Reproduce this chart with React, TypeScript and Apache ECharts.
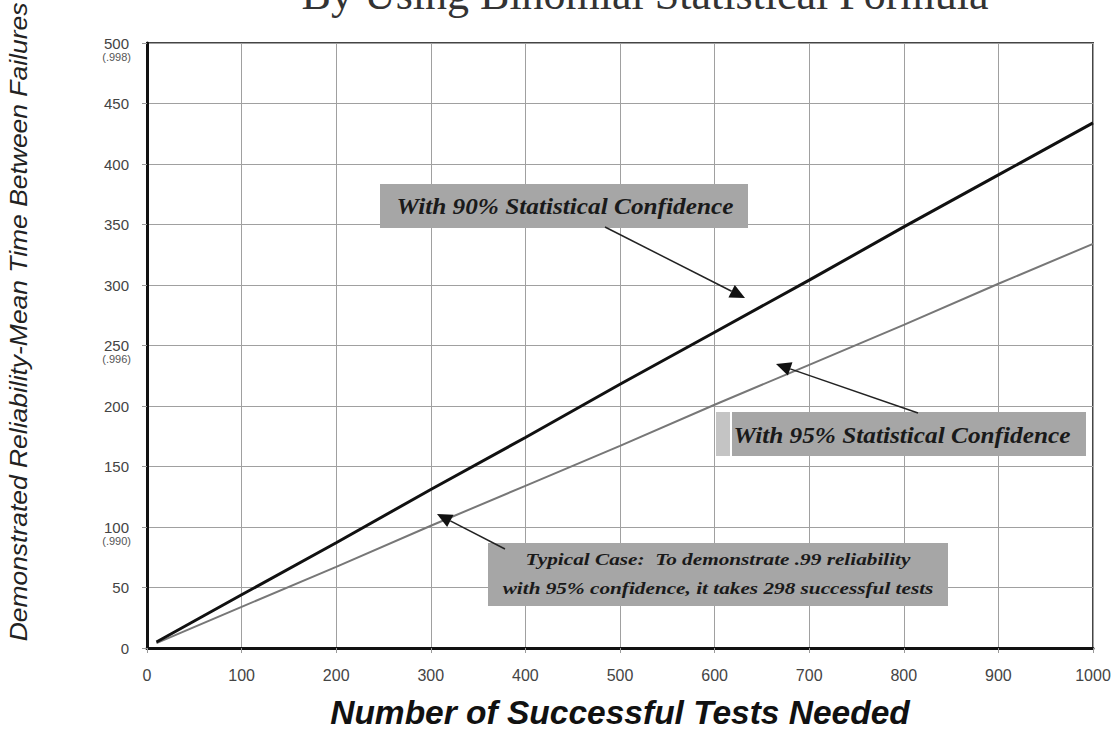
import React, { useEffect, useRef } from "react";
import * as echarts from "echarts";

// ---- data ----
const testsNeeded = [10, 100, 200, 300, 400, 500, 600, 700, 800, 900, 1000];
const mtbf90 = [5, 44, 87, 131, 174, 218, 261, 304, 348, 391, 434];
const mtbf95 = [4, 34, 67, 101, 134, 167, 201, 234, 267, 301, 334];
const xTicks = [0, 100, 200, 300, 400, 500, 600, 700, 800, 900, 1000];
const yTicks = [0, 50, 100, 150, 200, 250, 300, 350, 400, 450, 500];
const reliabilityTicks = [100, 250, 500];
const reliabilityLabels = ["(.990)", "(.996)", "(.998)"];

const title = "By Using Binomial Statistical Formula";
const xName = "Number of Successful Tests Needed";
const yName = "Demonstrated Reliability-Mean Time Between Failures";
const note90 = "With 90% Statistical Confidence";
const note95 = "With 95% Statistical Confidence";
const noteTypical = [
  "Typical Case:  To demonstrate .99 reliability",
  "with 95% confidence, it takes 298 successful tests",
];

function arrow(x1: number, y1: number, x2: number, y2: number) {
  const dx = x2 - x1;
  const dy = y2 - y1;
  const len = Math.sqrt(dx * dx + dy * dy);
  const ux = dx / len;
  const uy = dy / len;
  const hl = 15;
  const hw = 7;
  const bx = x2 - ux * hl;
  const by = y2 - uy * hl;
  return [
    {
      type: "line",
      shape: { x1, y1, x2: bx, y2: by },
      style: { stroke: "#222", lineWidth: 1.5 },
      z: 20,
    },
    {
      type: "polygon",
      shape: {
        points: [
          [x2, y2],
          [bx - uy * hw, by + ux * hw],
          [bx + uy * hw, by - ux * hw],
        ],
      },
      style: { fill: "#111" },
      z: 20,
    },
  ];
}

export default function App() {
  const ref = useRef<HTMLDivElement>(null);
  useEffect(() => {
    if (!ref.current) return;
    const chart = echarts.init(ref.current, undefined, { renderer: "svg" });
    const lbl = "Liberation Sans";
    const serif = "Liberation Serif";
    chart.setOption({
      animation: false,
      backgroundColor: "#ffffff",
      grid: {
        left: 147,
        right: 24,
        top: 43,
        bottom: 105,
        show: true,
        borderColor: "#444",
        borderWidth: 2,
        backgroundColor: "transparent",
      },
      xAxis: {
        type: "value",
        min: 0,
        max: 1000,
        interval: 100,
        name: xName,
        nameLocation: "middle",
        nameGap: 47,
        nameTextStyle: {
          fontFamily: lbl,
          fontSize: 33.5,
          fontWeight: "bold",
          fontStyle: "italic",
          color: "#111",
        },
        axisLine: { show: true, lineStyle: { color: "#111", width: 3 } },
        axisTick: { show: true, length: 5, lineStyle: { color: "#999" } },
        axisLabel: {
          margin: 19,
          fontFamily: lbl,
          fontSize: 16,
          color: "#444",
          formatter: (v: number) => (xTicks.includes(v) ? String(v) : ""),
        },
        splitLine: { show: true, lineStyle: { color: "#a0a0a0", width: 1 } },
      },
      yAxis: [
        {
          type: "value",
          min: 0,
          max: 500,
          interval: 50,
          axisLine: { show: true, lineStyle: { color: "#111", width: 3 } },
          axisTick: { show: true, length: 5, lineStyle: { color: "#999" } },
          axisLabel: {
            margin: 18,
            fontFamily: lbl,
            fontSize: 15,
            color: "#444",
            formatter: (v: number) => (yTicks.includes(v) ? String(v) : ""),
          },
          splitLine: { show: true, lineStyle: { color: "#a0a0a0", width: 1 } },
        },
        {
          type: "value",
          min: 0,
          max: 500,
          interval: 50,
          position: "left",
          axisLine: { show: false },
          axisTick: { show: false },
          splitLine: { show: false },
          axisLabel: {
            margin: 16,
            fontFamily: lbl,
            fontSize: 11,
            color: "#555",
            verticalAlign: "top",
            padding: [8, 0, 0, 0],
            formatter: (v: number) => {
              const i = reliabilityTicks.indexOf(v);
              return i >= 0 ? reliabilityLabels[i] : "";
            },
          },
        },
      ],
      series: [
        {
          name: "90%",
          type: "line",
          data: testsNeeded.map((x, i) => [x, mtbf90[i]]),
          showSymbol: false,
          lineStyle: { color: "#111", width: 3 },
          z: 5,
        },
        {
          name: "95%",
          type: "line",
          data: testsNeeded.map((x, i) => [x, mtbf95[i]]),
          showSymbol: false,
          lineStyle: { color: "#777", width: 2 },
          z: 4,
        },
      ],
      graphic: [
        {
          type: "text",
          x: 645,
          y: -28,
          style: {
            text: title,
            fontFamily: serif,
            fontSize: 44,
            fill: "#333",
            align: "center",
          },
          z: 30,
        },
        {
          type: "text",
          x: 19,
          y: 322,
          rotation: Math.PI / 2,
          scaleX: 1.15,
          style: {
            text: yName,
            fontFamily: lbl,
            fontSize: 23,
            fontStyle: "italic",
            fill: "#222",
            align: "center",
            verticalAlign: "middle",
          },
          z: 30,
        },
        {
          type: "rect",
          shape: { x: 380, y: 184, width: 368, height: 44 },
          style: { fill: "#a6a6a6" },
          z: 10,
        },
        {
          type: "text",
          x: 565,
          y: 206,
          scaleX: 1.1,
          style: {
            text: note90,
            fontFamily: serif,
            fontSize: 23,
            fontWeight: "bold",
            fontStyle: "italic",
            fill: "#1a1a1a",
            align: "center",
            verticalAlign: "middle",
          },
          z: 11,
        },
        {
          type: "rect",
          shape: { x: 716, y: 412, width: 14, height: 44 },
          style: { fill: "#c4c4c4" },
          z: 10,
        },
        {
          type: "rect",
          shape: { x: 732, y: 412, width: 354, height: 44 },
          style: { fill: "#a6a6a6" },
          z: 10,
        },
        {
          type: "text",
          x: 902,
          y: 435,
          scaleX: 1.1,
          style: {
            text: note95,
            fontFamily: serif,
            fontSize: 23,
            fontWeight: "bold",
            fontStyle: "italic",
            fill: "#1a1a1a",
            align: "center",
            verticalAlign: "middle",
          },
          z: 11,
        },
        {
          type: "rect",
          shape: { x: 488, y: 543, width: 460, height: 63 },
          style: { fill: "#a6a6a6" },
          z: 10,
        },
        {
          type: "text",
          x: 718,
          y: 574,
          scaleX: 1.25,
          style: {
            text: noteTypical.join("\n"),
            fontFamily: serif,
            fontSize: 17,
            lineHeight: 29,
            fontWeight: "bold",
            fontStyle: "italic",
            fill: "#1a1a1a",
            align: "center",
            verticalAlign: "middle",
          },
          z: 11,
        },
        ...arrow(605, 227, 745, 298),
        ...arrow(918, 413, 776, 364),
        ...arrow(505, 549, 437, 514),
      ],
    });
    return () => chart.dispose();
  }, []);
  return (
    <div
      ref={ref}
      style={{ position: "absolute", left: 0, top: 0, width: 1117, height: 753 }}
    />
  );
}
